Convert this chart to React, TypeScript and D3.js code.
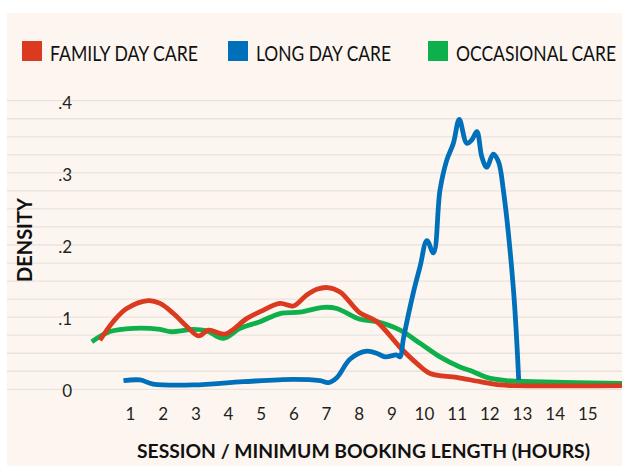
import { useEffect, useRef } from "react";
import * as d3 from "d3";

const W = 622;
const H = 466;

// hours / density pairs
const familyHours = [0.08, 0.49, 0.9, 1.56, 1.92, 2.33, 2.74, 3.1, 3.4, 3.91, 4.57, 5.0, 5.59, 6.0, 6.41, 6.72, 7.05, 7.43, 8.04, 8.55, 9.27, 9.78, 10.19, 11.0, 11.72, 12.33, 12.84, 16.1];
const familyDensity = [0.068, 0.094, 0.112, 0.123, 0.119, 0.105, 0.087, 0.074, 0.082, 0.0766, 0.098, 0.108, 0.119, 0.1154, 0.1307, 0.1386, 0.141, 0.135, 0.106, 0.094, 0.058, 0.036, 0.022, 0.0166, 0.0105, 0.006, 0.005, 0.005];

const occasionalHours = [-0.17, 0.39, 1.1, 1.92, 2.23, 2.94, 3.35, 3.86, 4.37, 4.98, 5.59, 6.2, 6.92, 7.33, 8.04, 8.55, 9.27, 9.88, 10.49, 11.1, 11.51, 11.92, 12.53, 13.35, 16.1];
const occasionalDensity = [0.066, 0.08, 0.0845, 0.083, 0.0798, 0.083, 0.081, 0.0707, 0.0845, 0.0937, 0.105, 0.107, 0.1136, 0.112, 0.097, 0.0937, 0.082, 0.0637, 0.045, 0.031, 0.0244, 0.0166, 0.012, 0.0105, 0.0083];

const longHours = [0.8, 1.31, 1.71, 2.94, 4.47, 6.0, 6.82, 7.07, 7.33, 7.74, 8.25, 8.6, 8.81, 9.17, 9.27, 9.37, 9.68, 9.88, 10.09, 10.29, 10.49, 10.7, 10.9, 11.08, 11.31, 11.46, 11.62, 11.77, 11.92, 12.12, 12.28, 12.43, 12.74, 12.9];
const longDensity = [0.012, 0.0129, 0.0073, 0.006, 0.0105, 0.0138, 0.012, 0.0092, 0.016, 0.042, 0.053, 0.049, 0.045, 0.0475, 0.045, 0.07, 0.135, 0.17, 0.206, 0.189, 0.276, 0.318, 0.341, 0.374, 0.341, 0.3455, 0.357, 0.3224, 0.3077, 0.326, 0.3155, 0.276, 0.1376, 0.0129];

const xTicks = [1, 2, 3, 4, 5, 6, 7, 8, 9, 10, 11, 12, 13, 14, 15];
const yTicks = [0, 0.1, 0.2, 0.3, 0.4];
const yTickLabels = ["0", ".1", ".2", ".3", ".4"];

const legendNames = ["FAMILY DAY CARE", "LONG DAY CARE", "OCCASIONAL CARE"];
const legendColors = ["#d93a20", "#0070ba", "#0db04b"];

const bodyFont = "Lato, 'Noto Sans', sans-serif";

export default function App() {
	const svgRef = useRef<SVGSVGElement>(null);

	useEffect(() => {
		if (!svgRef.current) return;
		const svg = d3.select(svgRef.current);
		svg.selectAll("*").remove();

		const x = d3.scaleLinear().domain([1, 15]).range([130, 587.3]);
		const y = d3.scaleLinear().domain([0, 0.4]).range([389.3, 100.7]);

		svg.append("rect")
			.attr("x", 7)
			.attr("y", 13)
			.attr("width", W - 7)
			.attr("height", H - 13)
			.attr("fill", "#fdf6f0");

		// title sits above the crop, only its descender shows
		svg.append("text")
			.attr("x", 367)
			.attr("y", -3)
			.attr("text-anchor", "end")
			.attr("font-family", bodyFont)
			.attr("font-size", 20)
			.attr("fill", "#222")
			.text("y");

		// legend (condensed face squeezed to the reference widths)
		const legendX = [22, 228, 428];
		const legendWidths = [148, 135, 160];
		const legend = svg.append("g");
		legendNames.forEach((name, i) => {
			legend.append("rect")
				.attr("x", legendX[i])
				.attr("y", 41)
				.attr("width", 20)
				.attr("height", 20)
				.attr("fill", legendColors[i]);
			legend.append("text")
				.attr("x", legendX[i] + 28)
				.attr("y", 61)
				.attr("font-family", bodyFont)
				.attr("font-size", 22)
				.attr("textLength", legendWidths[i])
				.attr("lengthAdjust", "spacingAndGlyphs")
				.attr("fill", "#111")
				.text(name);
		});

		// gridlines every .025
		svg.append("g")
			.selectAll("line")
			.data(d3.range(0, 17).map((i) => i * 0.025))
			.join("line")
			.attr("x1", 7)
			.attr("x2", W)
			.attr("y1", (d) => y(d))
			.attr("y2", (d) => y(d))
			.attr("stroke", "#e8e3de")
			.attr("stroke-width", 1.3);

		const xAxis = d3
			.axisBottom(x)
			.tickValues(xTicks)
			.tickSize(0)
			.tickFormat((d) => String(d));

		svg.append("g")
			.attr("transform", "translate(0,420)")
			.call(xAxis)
			.call((g) => g.select(".domain").remove())
			.call((g) =>
				g
					.selectAll(".tick text")
					.attr("y", 0)
					.attr("dy", null)
					.attr("fill", "#231f20")
					.attr("font-size", 17)
					.attr("font-family", bodyFont)
			);

		const yAxis = d3
			.axisLeft(y)
			.tickValues(yTicks)
			.tickSize(0)
			.tickPadding(0)
			.tickFormat((_, i) => yTickLabels[i]);

		svg.append("g")
			.attr("transform", "translate(72,2)")
			.call(yAxis)
			.call((g) => g.select(".domain").remove())
			.call((g) =>
				g
					.selectAll(".tick text")
					.attr("fill", "#231f20")
					.attr("font-size", 17)
					.attr("font-family", bodyFont)
			);

		svg.append("text")
			.attr("x", 137)
			.attr("y", 458)
			.attr("font-family", bodyFont)
			.attr("font-weight", 700)
			.attr("font-size", 19)
			.attr("textLength", 453)
			.attr("lengthAdjust", "spacingAndGlyphs")
			.attr("fill", "#111")
			.text("SESSION / MINIMUM BOOKING LENGTH (HOURS)");

		svg.append("text")
			.attr("transform", "translate(31.5,240) rotate(-90)")
			.attr("text-anchor", "middle")
			.attr("font-family", bodyFont)
			.attr("font-weight", 700)
			.attr("font-size", 20)
			.attr("fill", "#111")
			.text("DENSITY");

		const line = d3
			.line<[number, number]>()
			.x((d) => x(d[0]))
			.y((d) => y(d[1]))
			.curve(d3.curveCatmullRom.alpha(0.5));

		const series = [
			{ hours: occasionalHours, density: occasionalDensity, color: legendColors[2] },
			{ hours: familyHours, density: familyDensity, color: legendColors[0] },
			{ hours: longHours, density: longDensity, color: legendColors[1] },
		];

		series.forEach((s) => {
			const pts = s.hours.map((h, i) => [h, s.density[i]] as [number, number]);
			svg.append("path")
				.datum(pts)
				.attr("fill", "none")
				.attr("stroke", s.color)
				.attr("stroke-width", 4.8)
				.attr("stroke-linejoin", "round")
				.attr("d", line);
		});
	}, []);

	return (
		<svg
			ref={svgRef}
			width={W}
			height={H}
			style={{ position: "fixed", left: 0, top: 0, background: "#fff" }}
		/>
	);
}
